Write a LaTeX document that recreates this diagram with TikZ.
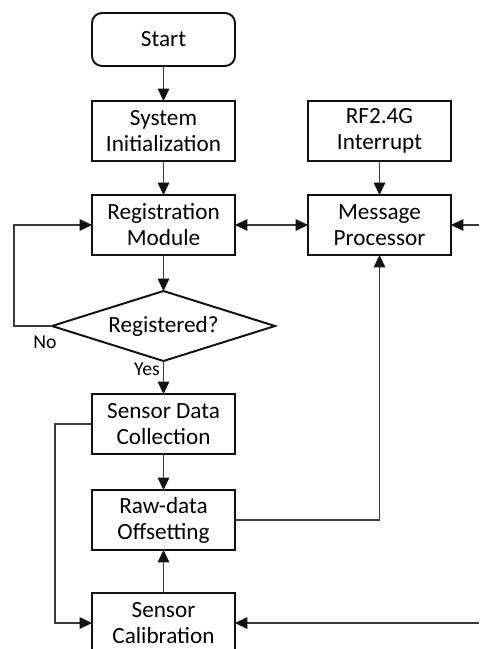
\documentclass[tikz,border=0pt]{standalone}
\usepackage{fontspec}
\setmainfont{Carlito}
\usetikzlibrary{shapes.geometric, arrows.meta, positioning, calc}
\definecolor{darktext}{HTML}{111111}
\definecolor{linecolor}{HTML}{3A3A3A}

\begin{document}
\begin{tikzpicture}[
    node distance=0.875cm,
    box/.style={rectangle, draw=darktext, line width=1.4pt, outer sep=0pt,
                minimum width=3.575cm, minimum height=1.5cm, align=center,
                inner sep=2pt, font=\fontsize{16.5}{18.5}\selectfont},
    startbox/.style={box, rounded corners=0.25cm, minimum height=1.325cm},
    decision/.style={diamond, draw=darktext, line width=1.4pt, inner sep=0pt,
                outer sep=0pt, shape aspect=3.2, minimum width=5.575cm,
                minimum height=1.75cm, font=\fontsize{16.5}{18.5}\selectfont},
    head/.tip={Triangle[length=0.31cm, width=0.29cm, color=darktext]},
    arrow/.style={-head, line width=0.75pt, color=linecolor},
    tag/.style={font=\fontsize{14}{16}\selectfont, inner sep=1pt}
]
\useasboundingbox (0,0) rectangle (12,-16.225);

\node[startbox] (start) at (4.0875,-0.9875) {Start};
\node[box, below=0.875cm of start] (init) {System\\Initialization};
\node[box, below=0.85cm of init] (reg) {Registration\\Module};
\node[box, right=1.825cm of reg] (msg) {Message\\Processor};
\node[box, above=0.85cm of msg] (rf) {RF2.4G\\Interrupt};
\node[decision, below=0.9cm of reg] (dec) {Registered?};
\node[box, below=0.825cm of dec] (collect) {Sensor Data\\Collection};
\node[box, below=0.9cm of collect] (offset) {Raw-data\\Offsetting};
\node[box, below=1.075cm of offset] (calib) {Sensor\\Calibration};

\coordinate (rin1) at ($(msg.east)+(0.7,0)$);
\coordinate (rin2) at (rin1 |- calib.east);

\node[tag, anchor=north] at ($(dec.west)+(-0.175,-0.2)$) {No};
\node[tag, anchor=north east] at ($(dec.south)+(-0.05,0)$) {Yes};

\draw[arrow] (start) -- (init);
\draw[arrow] (init) -- (reg);
\draw[arrow] (reg) -- (dec);
\draw[arrow] (dec.west) -- ++(-0.95,0) |- (reg.west);
\draw[arrow] (dec) -- (collect);
\draw[arrow] (collect) -- (offset);
\draw[arrow] (calib) -- (offset);
\draw[arrow] (collect.west) -- ++(-0.925,0) |- (calib.west);
\draw[arrow] (offset.east) -| (msg.south);
\draw[arrow] (rf) -- (msg);
\draw[head-head, line width=0.75pt, color=linecolor] (reg) -- (msg);
\draw[arrow] (rin1) -- (msg.east);
\draw[arrow] (rin2) -- (calib.east);

\end{tikzpicture}
\end{document}
